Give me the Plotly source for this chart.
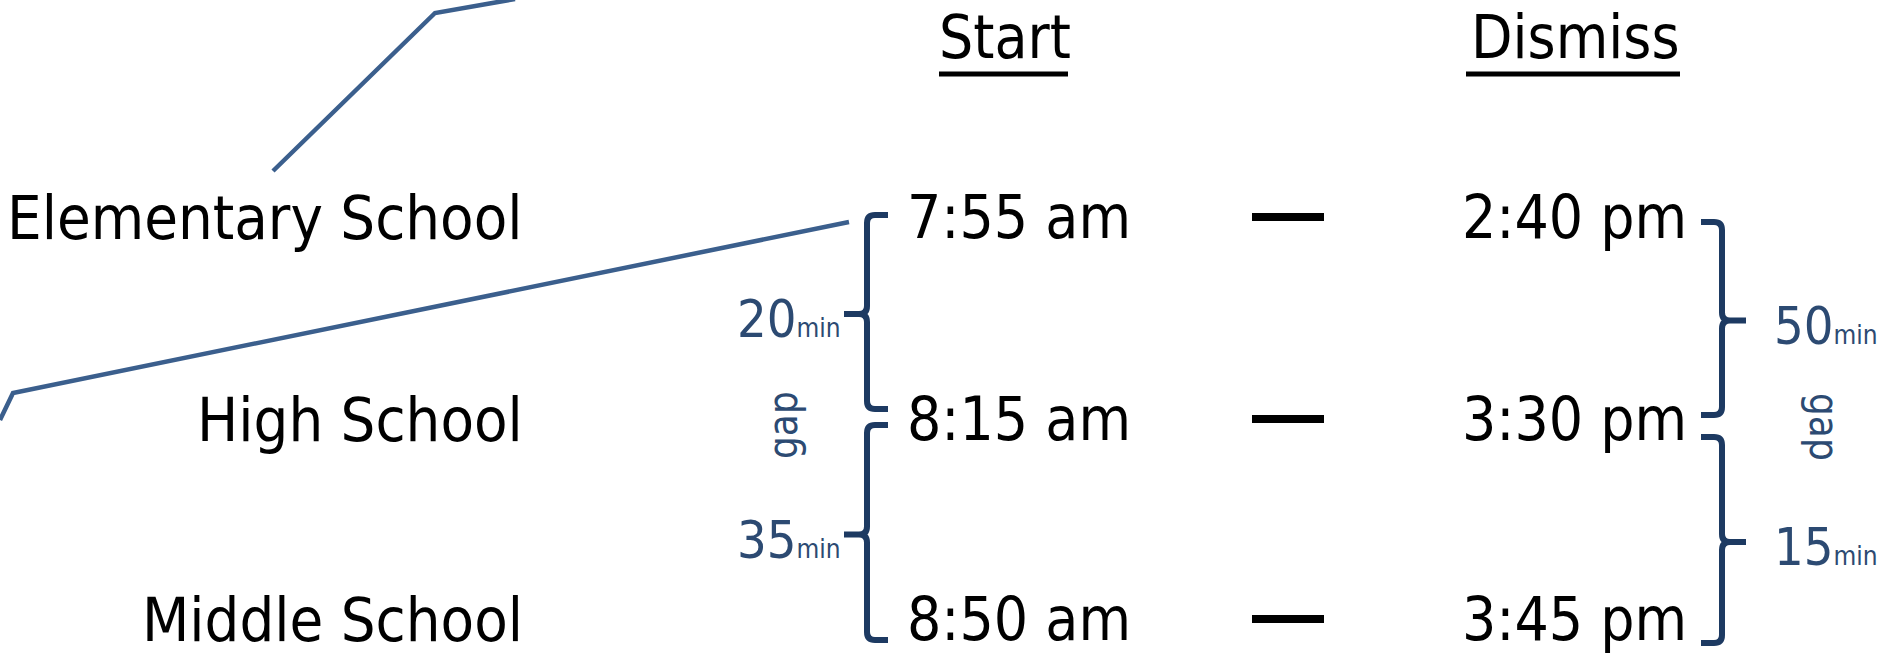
import plotly.graph_objects as go

# ---- data ----
schools = ["Elementary School", "High School", "Middle School"]
start_times = ["7:55 am", "8:15 am", "8:50 am"]
dismiss_times = ["2:40 pm", "3:30 pm", "3:45 pm"]
start_gaps = [20, 35]      # minutes between consecutive start times
dismiss_gaps = [50, 15]    # minutes between consecutive dismissal times
headers = ["Start", "Dismiss"]

# ---- layout constants (pixel space) ----
W, H = 1879, 662
FONT = "DejaVu Sans Condensed, Liberation Sans Narrow, sans-serif"
BLACK = "#000000"
NAVY = "#1d3a62"
LABEL = "#2c4a72"
STEEL = "#3b5f8d"

NAME = 61        # school-name size
MAIN = 60        # times / headers size
DIG = 52         # gap digit size
SMALL = 26       # "min" size
GAP = 40         # "gap" size

row_y = [217, 419, 619]
name_x = 524
start_x = 1019
dismiss_x = 1574
dash_x = (1252, 1324)
header_y = 37
header_x = [1005, 1575]
underline = [(939, 1068), (1466, 1680)]
underline_y = 74

fig = go.Figure()

# decorative leader lines from the surrounding graphic
fig.add_trace(go.Scatter(x=[273, 435, 515], y=[171, 13, -1], mode="lines",
                         line=dict(color=STEEL, width=4.5), hoverinfo="skip"))
fig.add_trace(go.Scatter(x=[849, 13, 0], y=[222, 393, 420], mode="lines",
                         line=dict(color=STEEL, width=4.5), hoverinfo="skip"))

ann = []
shapes = []

# headers
for h, hx, (u0, u1) in zip(headers, header_x, underline):
    ann.append(dict(x=hx, y=header_y, text=h, showarrow=False, xanchor="center",
                    yanchor="middle", font=dict(family=FONT, size=MAIN, color=BLACK)))
    shapes.append(dict(type="line", xref="x", yref="y", x0=u0, x1=u1,
                       y0=underline_y, y1=underline_y,
                       line=dict(color=BLACK, width=5)))

# rows
for name, st, dt, y in zip(schools, start_times, dismiss_times, row_y):
    ann.append(dict(x=name_x, y=y, text=name, showarrow=False, xanchor="right",
                    yanchor="middle", borderpad=0,
                    font=dict(family=FONT, size=NAME, color=BLACK)))
    ann.append(dict(x=start_x, y=y, text=st, showarrow=False, xanchor="center",
                    yanchor="middle", font=dict(family=FONT, size=MAIN, color=BLACK)))
    ann.append(dict(x=dismiss_x, y=y, text=dt, showarrow=False, xanchor="center",
                    yanchor="middle", font=dict(family=FONT, size=MAIN, color=BLACK)))
    shapes.append(dict(type="line", xref="x", yref="y", x0=dash_x[0], x1=dash_x[1],
                       y0=y, y1=y, line=dict(color=BLACK, width=8)))


def bracket(xa, xv, xt, y0, y1, ym, r=8):
    s = 1 if xa > xv else -1  # arms direction
    t = -s
    return (f"M {xa},{y0} L {xv + s*r},{y0} Q {xv},{y0} {xv},{y0 + r} "
            f"L {xv},{ym - r} Q {xv},{ym} {xv + t*r},{ym} L {xt},{ym} "
            f"L {xv + t*r},{ym} Q {xv},{ym} {xv},{ym + r} "
            f"L {xv},{y1 - r} Q {xv},{y1} {xv + s*r},{y1} L {xa},{y1}")


left_spans = [(row_y[0] - 2, row_y[1] - 10), (row_y[1] + 6, row_y[2] + 21)]
right_spans = [(row_y[0] + 5, row_y[1] - 4), (row_y[1] + 18, row_y[2] + 24)]

for g, (y0, y1) in zip(start_gaps, left_spans):
    ym = (y0 + y1) / 2 + 2
    shapes.append(dict(type="path", xref="x", yref="y",
                       path=bracket(888, 867, 844, y0, y1, ym),
                       line=dict(color=NAVY, width=6)))
    ann.append(dict(x=842, y=ym + 5,
                    text=f"{g}<span style='font-size:{SMALL}px'>min</span>",
                    showarrow=False, xanchor="right", yanchor="middle", borderpad=0,
                    font=dict(family=FONT, size=DIG, color=LABEL)))

for g, (y0, y1) in zip(dismiss_gaps, right_spans):
    ym = (y0 + y1) / 2 + 2
    shapes.append(dict(type="path", xref="x", yref="y",
                       path=bracket(1701, 1722, 1746, y0, y1, ym),
                       line=dict(color=NAVY, width=6)))
    ann.append(dict(x=1773, y=ym + 5,
                    text=f"{g}<span style='font-size:{SMALL}px'>min</span>",
                    showarrow=False, xanchor="left", yanchor="middle", borderpad=0,
                    font=dict(family=FONT, size=DIG, color=LABEL)))

ann.append(dict(x=783, y=425, text="gap", textangle=-90, showarrow=False,
                xanchor="center", yanchor="middle",
                font=dict(family=FONT, size=GAP, color=LABEL)))
ann.append(dict(x=1824, y=427, text="gap", textangle=90, showarrow=False,
                xanchor="center", yanchor="middle",
                font=dict(family=FONT, size=GAP, color=LABEL)))

fig.update_layout(
    width=W, height=H,
    margin=dict(l=0, r=0, t=0, b=0),
    paper_bgcolor="white", plot_bgcolor="white",
    showlegend=False,
    xaxis=dict(range=[0, W], visible=False, fixedrange=True),
    yaxis=dict(range=[H, 0], visible=False, fixedrange=True),
    annotations=ann, shapes=shapes,
)

fig.write_html("out.html", config={"displayModeBar": False},
               post_script="document.body.style.margin='0';document.body.style.overflow='hidden';")
